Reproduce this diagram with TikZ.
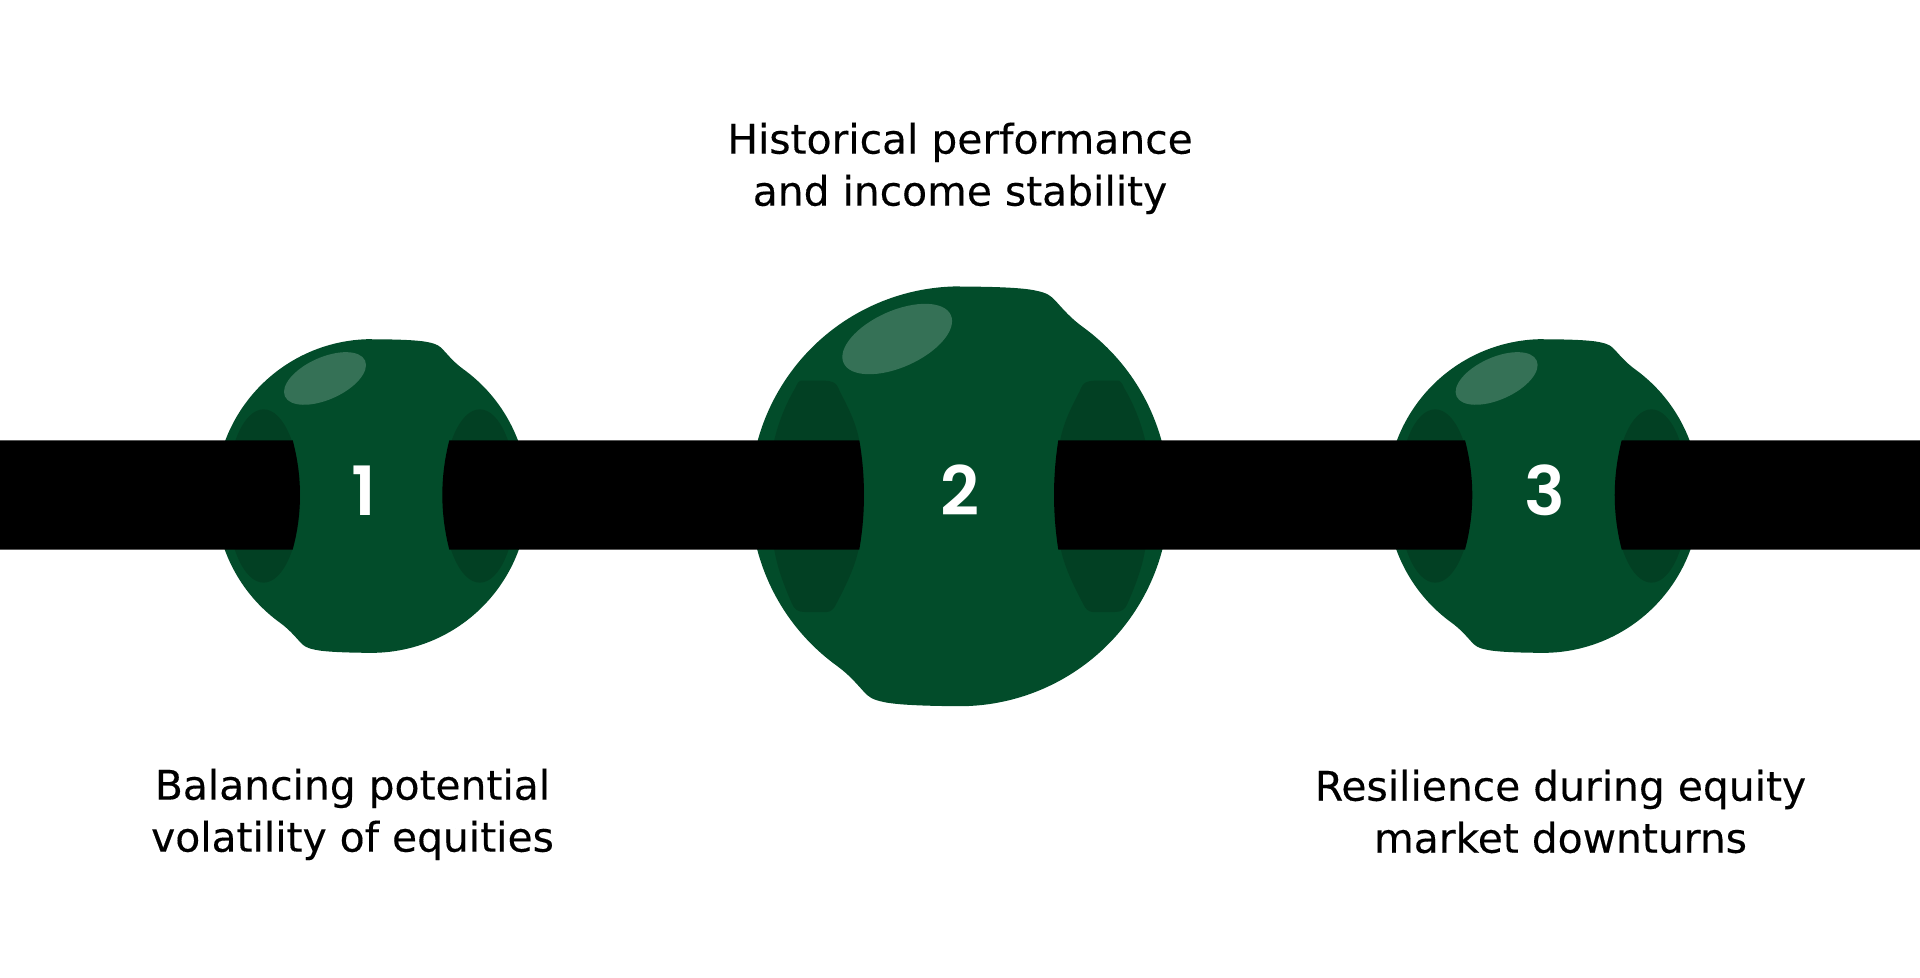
\documentclass[tikz,border=0pt]{standalone}
\usepackage{fontspec}
\setmainfont[FakeBold=0.3]{DejaVu Sans}
\newfontfamily\digitfont{Poppins SemiBold}
\usepackage{tikz}
\definecolor{beadgreen}{HTML}{024C2A}
\definecolor{holegreen}{HTML}{024023}
\definecolor{glintgreen}{HTML}{357156}
\tikzset{
  caption/.style={font=\fontsize{40.8bp}{52bp}\selectfont, align=center, text=black, inner sep=0pt},
  digit/.style={font=\digitfont\fontsize{68bp}{68bp}\selectfont, text=white, inner sep=0pt},
  barfill/.style={fill=black},
  beadbody/.pic={
    \fill[beadgreen] (0bp,100bp) .. controls (16bp,100bp) and (30bp,99.5bp) .. (36.2bp,98.1bp)
      .. controls (42bp,96.9bp) and (43.3bp,95.7bp) .. (45.7bp,93.2bp)
      .. controls (49.5bp,89bp) and (53bp,84.9bp) .. (58.5bp,80.9bp)
      arc [start angle=54.1, end angle=-90, radius=100bp]
      .. controls (-16bp,-100bp) and (-30bp,-99.5bp) .. (-36.2bp,-98.1bp)
      .. controls (-42bp,-96.9bp) and (-43.3bp,-95.7bp) .. (-45.7bp,-93.2bp)
      .. controls (-49.5bp,-89bp) and (-53bp,-84.9bp) .. (-58.5bp,-80.9bp)
      arc [start angle=-125.9, end angle=-270, radius=100bp] -- cycle;
    \fill[glintgreen, shift={(-29.8bp,75bp)}, rotate=24] (0bp,0bp) ellipse [x radius=28bp, y radius=13.5bp];
  },
  holeoval/.pic={
    \fill[holegreen] (-69bp,0bp) ellipse [x radius=23.4bp, y radius=55.3bp];
    \fill[holegreen] (69bp,0bp) ellipse [x radius=23.4bp, y radius=55.3bp];
  },
  holeflat/.pic={
    \fill[holegreen] (-67.4bp,55.2bp) .. controls (-63bp,55.2bp) and (-60bp,55bp) .. (-58.7bp,53.1bp)
      .. controls (-58bp,52bp) and (-57.5bp,51bp) .. (-57.1bp,49.9bp)
      .. controls (-53bp,42bp) and (-50bp,36bp) .. (-48.3bp,28.5bp)
      .. controls (-46bp,18bp) and (-45.6bp,8bp) .. (-45.6bp,-0.2bp)
      .. controls (-45.6bp,-10bp) and (-46.5bp,-18bp) .. (-48.3bp,-25.6bp)
      .. controls (-50bp,-34bp) and (-55bp,-44bp) .. (-58.7bp,-51bp)
      .. controls (-60bp,-54bp) and (-61.5bp,-55bp) .. (-63.4bp,-55.2bp)
      -- (-73.8bp,-55.2bp) .. controls (-77bp,-55.2bp) and (-79bp,-54bp) .. (-80.1bp,-51bp)
      .. controls (-84bp,-42bp) and (-87bp,-34bp) .. (-88.4bp,-25.6bp)
      .. controls (-90bp,-17bp) and (-91.7bp,-8bp) .. (-91.7bp,0bp)
      .. controls (-91.7bp,9bp) and (-90bp,18bp) .. (-88.4bp,26.9bp)
      .. controls (-86.5bp,35bp) and (-83bp,44bp) .. (-78.5bp,51.5bp)
      .. controls (-77.5bp,54bp) and (-76.5bp,55.2bp) .. (-75.4bp,55.2bp) -- cycle;
  },
}
\begin{document}
\begin{tikzpicture}
  \useasboundingbox (0bp,0bp) rectangle (1920bp,978bp);
  %%
  \pic[scale=1.567] at (371.7bp,482bp) {beadbody};
  \pic[scale=1.567] at (371.7bp,482bp) {holeoval};
  \pic[scale=2.097] at (959.7bp,481.7bp) {beadbody};
  \pic[scale=2.097] at (959.7bp,481.7bp) {holeflat};
  \pic[scale=2.097, xscale=-1] at (959.7bp,481.7bp) {holeflat};
  \pic[scale=1.567] at (1543.3bp,482bp) {beadbody};
  \pic[scale=1.567] at (1543.3bp,482bp) {holeoval};
  %%
  \fill[barfill] (0bp,537.7bp) -- (292.7bp,537.7bp) .. controls (302.4bp,501bp) and (302.4bp,465bp) .. (292.7bp,428.4bp) -- (0bp,428.4bp) -- cycle;
  \fill[barfill] (449.3bp,537.7bp) -- (859.3bp,537.7bp) .. controls (865.5bp,501bp) and (865.5bp,465bp) .. (859.3bp,428.4bp) -- (449.3bp,428.4bp) .. controls (440bp,465bp) and (440bp,501bp) .. (449.3bp,537.7bp) -- cycle;
  \fill[barfill] (1058.3bp,537.7bp) -- (1465bp,537.7bp) .. controls (1474.7bp,501bp) and (1474.7bp,465bp) .. (1465bp,428.4bp) -- (1058.3bp,428.4bp) .. controls (1052.6bp,465bp) and (1052.6bp,501bp) .. (1058.3bp,537.7bp) -- cycle;
  \fill[barfill] (1621.7bp,537.7bp) -- (1920bp,537.7bp) -- (1920bp,428.4bp) -- (1621.7bp,428.4bp) .. controls (1612.4bp,465bp) and (1612.4bp,501bp) .. (1621.7bp,537.7bp) -- cycle;
  %%
  \node (num1) at (364bp,487.7bp) [digit] {1};
  \node (num2) at (959.7bp,488bp) [digit] {2};
  \node (num3) at (1545.3bp,487.7bp) [digit] {3};
  \node (capt2) at (960bp,809.6bp) [caption] {Historical performance\\and income stability};
  \node (capt1) at (352.5bp,163.6bp) [caption] {Balancing potential\\volatility of equities};
  \node (capt3) at (1560.5bp,166.5bp) [caption] {Resilience during equity\\market downturns};
\end{tikzpicture}
\end{document}
